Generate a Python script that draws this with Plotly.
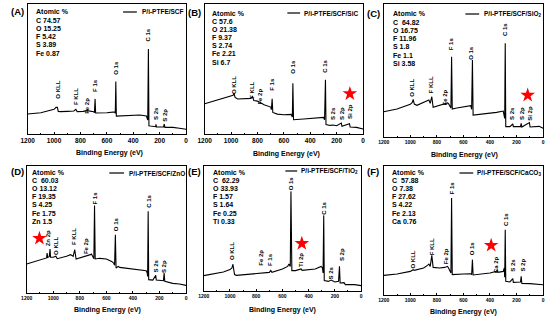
import plotly.graph_objects as go

# ---------------- data (binding energy in eV, intensity in arbitrary units) ----------------
be_A = [1200,1100,1050,1000,985,975,968,950,900,850,835,825,780,750,700,694,689,685,600,540,536,532,528,450,350,300,292,290,285,281,270,230,228,224,170,165,160,100,50,0]
int_A = [15.4,16.4,17.7,19.0,20.5,20.5,17.4,17.2,17.4,17.7,19.0,17.2,17.4,18.0,17.2,16.4,27.0,16.2,16.4,17.0,16.0,40.3,13.8,14.1,14.6,13.8,11.5,10.8,65.4,6.4,6.2,5.6,7.4,5.4,5.4,7.7,5.1,5.1,4.4,3.6]

be_B = [1200,1100,1050,1000,985,978,970,950,900,850,838,828,800,750,700,695,689,684,650,600,545,536,532,527,450,350,300,292,285,281,250,228,200,165,160,103,98,50,0]
int_B = [23.3,26.3,27.6,29.4,29.7,31.5,28.1,26.9,27.4,27.4,28.9,25.8,25.3,22.5,20.7,18.7,27.1,16.6,15.3,14.8,15.1,13.0,39.1,11.0,11.5,12.3,12.8,11.0,41.7,7.2,6.6,6.9,6.4,8.4,5.9,7.9,5.4,5.1,3.8]

be_C = [1200,1100,1000,985,978,970,950,900,870,860,850,838,828,800,750,720,712,700,694,689,684,650,600,560,545,538,532,527,450,350,300,292,289,285,281,250,228,224,170,165,160,103,98,30,0]
int_C = [19.0,21.0,24.6,26.0,28.3,24.8,23.8,25.8,26.8,27.8,25.3,30.3,22.3,23.3,24.6,25.6,25.1,22.3,21.8,60.4,21.0,21.8,22.8,23.3,23.6,20.8,57.9,16.5,17.3,18.5,19.5,16.5,14.0,70.4,7.8,7.8,9.8,7.8,7.8,10.3,7.5,10.8,7.5,8.0,6.5]

be_D = [1200,1100,1050,1046,1042,1030,1024,1020,1000,980,970,900,870,850,838,828,780,720,712,700,694,689,684,650,600,560,545,538,532,527,510,500,450,350,300,292,289,285,281,250,228,224,170,165,160,100,50,0]
int_D = [22.8,25.7,27.6,31.5,28.0,28.6,34.6,28.1,28.1,28.9,27.0,28.9,30.2,28.9,34.1,26.8,28.1,30.2,30.7,28.1,27.0,68.8,26.8,27.3,26.8,24.9,23.6,21.8,45.9,19.7,21.0,20.2,19.4,18.4,17.6,15.7,13.1,64.3,10.5,10.2,13.9,10.2,9.7,15.7,9.2,7.6,7.1,6.0]

be_E = [1200,1100,1050,1000,985,978,972,965,950,900,800,750,700,689,680,600,560,550,540,535,528,500,458,450,400,350,305,295,290,285,281,250,228,200,172,165,160,130,120,50,0]
int_E = [12.3,13.9,15.2,17.1,18.4,21.6,17.1,13.1,12.5,13.1,13.9,14.4,14.9,16.5,14.9,17.6,19.7,21.6,19.7,79.7,16.3,16.3,17.6,16.5,17.1,17.6,19.7,18.4,14.4,60.5,8.3,7.7,8.8,7.2,7.7,19.7,6.4,6.7,5.1,5.1,4.3]

be_F = [1200,1100,1000,978,970,900,870,860,850,838,828,780,740,720,712,700,694,689,684,600,545,538,532,527,450,400,350,347,340,300,292,289,285,281,250,228,224,170,165,160,100,50,0]
int_F = [15.2,16.3,18.3,19.6,19.1,20.9,23.0,24.0,22.2,30.7,21.4,20.9,21.4,22.2,20.9,17.8,17.0,75.2,15.8,16.3,16.5,15.8,27.4,15.5,16.5,17.0,18.3,19.5,17.6,18.3,20.9,13.7,50.6,10.6,10.1,12.7,9.8,10.1,14.5,9.0,8.8,8.5,8.0]

# peak labels: name, binding energy, label height
peaks_A = [("O KLL",971,34),("F KLL",839,28.7),("Fe 2p",747,22),("F 1s",690,37.7),("O 1s",530,51),("C 1s",286,76),("S 2s",229,16),("S 2p",162,14.6)]
peaks_B = [("O KLL",983,37.9),("F KLL",842,34),("Fe 2p",779,29),("F 1s",690,37.9),("O 1s",528,52),("C 1s",286,52),("S 2s",229,16),("S 2p",162,16),("Si 2p",95,17.4)]
peaks_C = [("O KLL",983,36.6),("F KLL",842,39),("Fe 2p",736,30),("F 1s",691,70),("O 1s",538,63),("C 1s",286,80.5),("S 2s",235,18),("S 2p",160,18),("Si 2p",101,18)]
peaks_D = [("Zn 2p",1037,43.3),("O KLL",975,36.7),("F KLL",839,44.6),("Fe 2p",748,36.7),("F 1s",689,74.8),("O 1s",531,53.8),("C 1s",284,72),("S 2s",225,21),("S 2p",160,21)]
peaks_E = [("O KLL",979,31.7),("Fe 2p",765,26.4),("F 1s",695,25.6),("O 1s",532,86.4),("Ti 2p",457,25),("C 1s",284,66.4),("S 2s",226,14.4),("S 2p",151,29)]
peaks_F = [("O KLL",981,27.4),("F KLL",837,37.7),("Fe 2p",732,30),("F 1s",690,83),("O 1s",533,36.4),("Ca 2p",359,23.5),("C 1s",284,58.4),("S 2s",227,23.5),("S 2p",152,23.5)]

atomic_A = ["C 74.57","O 15.25","F 5.42","S 3.89","Fe 0.87"]
atomic_B = ["C 57.6","O 21.38","F 9.37","S 2.74","Fe 2.21","Si 6.7"]
atomic_C = ["C  64.82","O 16.75","F 11.96","S 1.8","Fe 1.1","Si 3.58"]
atomic_D = ["C  60.03","O 13.12","F 19.35","S 4.25","Fe 1.75","Zn 1.5"]
atomic_E = ["C  62.29","O 33.93","F 1.57","S 1.64","Fe 0.25","Ti 0.33"]
atomic_F = ["C  57.88","O 7.38","F 27.62","S 4.22","Fe 2.13","Ca 0.76"]

names = ["P/i-PTFE/SCF","P/i-PTFE/SCF/SiC","P/i-PTFE/SCF/SiO<sub>2</sub>",
         "P/i-PTFE/SCF/ZnO","P/i-PTFE/SCF/TiO<sub>2</sub>","P/i-PTFE/SCF/CaCO<sub>3</sub>"]
panel_letters = ["A","B","C","D","E","F"]
# red stars marking the filler element: (binding energy, height); None where absent
stars = [None,(100,31),(116,31.4),(1104,43),(452,38),(391,38.5)]
tick_vals = [0,200,400,600,800,1000,1200]

# ---------------- layout geometry (pixels) ----------------
W, H = 550, 320
FONT = "Arial, Liberation Sans, sans-serif"
boxes = [(21,182,4,134),(201,362,4,134),(383,545,4,137),(20,182,166,293),(200,360,166,291),(383,545,166,295)]
tick_sizes = [6.5,6.5,5,5,5,5]
atomic_pos = [(27,12),(206,13),(390,14),(23,172),(207,172),(389,172)]
legend_pos = [(118,132,135,12),(285,298,300,13),(466,480,483,14),(104,119,122,173),(283,295,297,171),(460,474,476,173)]
label_pos = [(2,12),(182,12.5),(364,13),(2,171),(182,171),(364,171)]
title_pos = [(104,153),(284,154),(465,155),(102,310),(280,310),(464,312)]

def px(x):
    return x / W
def py(y):
    return 1 - y / H

be_all = [be_A,be_B,be_C,be_D,be_E,be_F]
int_all = [int_A,int_B,int_C,int_D,int_E,int_F]
peaks_all = [peaks_A,peaks_B,peaks_C,peaks_D,peaks_E,peaks_F]
atomic_all = [atomic_A,atomic_B,atomic_C,atomic_D,atomic_E,atomic_F]

fig = go.Figure()
layout = dict(width=W, height=H, margin=dict(l=0,r=0,t=0,b=0),
              paper_bgcolor="white", plot_bgcolor="white", showlegend=False,
              font=dict(family=FONT, color="black"))
annotations = []
shapes = []

for i in range(6):
    sfx = "" if i == 0 else str(i + 1)
    xa, ya = "x" + sfx, "y" + sfx
    x0, x1, y0, y1 = boxes[i]
    fig.add_trace(go.Scatter(x=be_all[i], y=int_all[i], mode="lines",
                             line=dict(color="black", width=1.1), xaxis=xa, yaxis=ya,
                             hoverinfo="skip"))
    if stars[i] is not None:
        fig.add_trace(go.Scatter(x=[stars[i][0]], y=[stars[i][1]], mode="markers",
                                 marker=dict(symbol="star", size=11, color="red",
                                             line=dict(width=0)),
                                 xaxis=xa, yaxis=ya, hoverinfo="skip"))
    layout["xaxis" + sfx] = dict(domain=[px(x0), px(x1)], anchor=ya, range=[1200, 0],
                                 tickvals=tick_vals, ticks="inside", ticklen=2.5,
                                 tickcolor="black", tickwidth=1,
                                 showline=True, mirror=True, linecolor="black", linewidth=1,
                                 showgrid=False, zeroline=False,
                                 tickfont=dict(size=tick_sizes[i], family=FONT, color="black", weight="bold"),
                                 minor=dict(ticks="inside", dtick=100, ticklen=1.5,
                                            tickcolor="black", showgrid=False))
    layout["yaxis" + sfx] = dict(domain=[py(y1), py(y0)], anchor=xa, range=[0, 100],
                                 showticklabels=False, ticks="", showline=True, mirror=True,
                                 linecolor="black", linewidth=1, showgrid=False, zeroline=False)
    # peak labels
    for name, be, h in peaks_all[i]:
        annotations.append(dict(x=be, y=h, xref=xa, yref=ya, text="<b>" + name + "</b>",
                                textangle=-90, showarrow=False,
                                font=dict(size=6, family=FONT, color="black"),
                                xanchor="center", yanchor="middle"))
    # atomic composition block
    ax, ay = atomic_pos[i]
    lines = ["Atomic %"] + atomic_all[i]
    for k, t in enumerate(lines):
        annotations.append(dict(x=px(ax), y=py(ay + 8.2 * k), xref="paper", yref="paper",
                                text="<b>" + t + "</b>", showarrow=False,
                                font=dict(size=7, family=FONT, color="black"),
                                xanchor="left", yanchor="middle"))
    # legend
    lx0, lx1, tx, ly = legend_pos[i]
    shapes.append(dict(type="line", xref="paper", yref="paper", x0=px(lx0), x1=px(lx1),
                       y0=py(ly), y1=py(ly), line=dict(color="black", width=1.2)))
    annotations.append(dict(x=px(tx), y=py(ly), xref="paper", yref="paper",
                            text="<b>" + names[i] + "</b>", showarrow=False,
                            font=dict(size=6.5, family=FONT, color="black"),
                            xanchor="left", yanchor="middle"))
    # panel letter
    lx, lyy = label_pos[i]
    annotations.append(dict(x=px(lx), y=py(lyy), xref="paper", yref="paper",
                            text="<b>(" + panel_letters[i] + ")</b>", showarrow=False,
                            font=dict(size=9.5, family=FONT, color="black"),
                            xanchor="left", yanchor="middle"))
    # x axis title
    tx_, ty_ = title_pos[i]
    annotations.append(dict(x=px(tx_), y=py(ty_), xref="paper", yref="paper",
                            text="<b>Binding Energy (eV)</b>", showarrow=False,
                            font=dict(size=7, family=FONT, color="black"),
                            xanchor="center", yanchor="middle"))

layout["annotations"] = annotations
layout["shapes"] = shapes
fig.update_layout(**layout)
fig.write_html("out.html", config={"displayModeBar": False, "staticPlot": True},
               post_script="document.body.style.margin='0';")
